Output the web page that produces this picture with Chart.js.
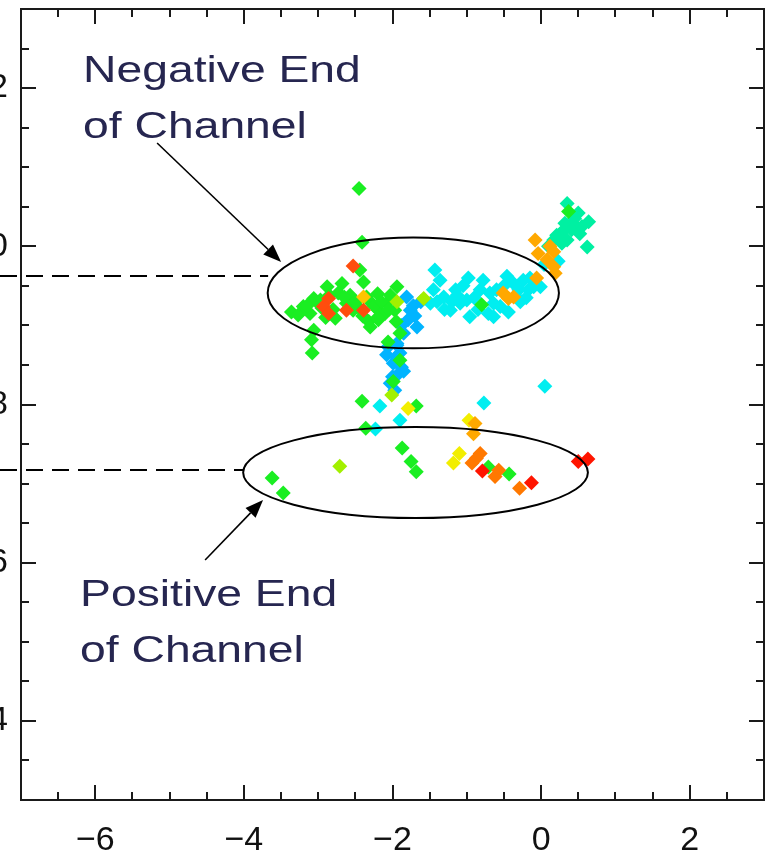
<!DOCTYPE html>
<html>
<head>
<meta charset="utf-8">
<script src="https://cdn.jsdelivr.net/npm/chart.js@4.4.1/dist/chart.umd.min.js"></script>
<style>
  html, body { margin: 0; padding: 0; background: #fff; }
  #wrap { width: 775px; height: 857px; position: relative; }
</style>
</head>
<body>
<div id="wrap"><canvas id="myChart"></canvas></div>
<script>
// axis ticks
const xTicks = [-6, -4, -2, 0, 2];
const yTicks = [4, 6, 8, 10, 12];

// points, one list per marker colour
const greenPts = [
  [-2.45, 10.73], [-2.41, 10.05], [-2.44, 9.70], [-2.39, 9.55], [-2.68, 9.53], [-2.88, 9.49],
  [-2.73, 9.41], [-2.57, 9.38], [-3.06, 9.34], [-3.20, 9.24], [-3.36, 9.17], [-3.27, 9.13],
  [-3.11, 9.15], [-2.77, 9.09], [-2.53, 9.19], [-2.30, 9.30], [-2.19, 9.19], [-2.32, 9.05],
  [-2.19, 9.07], [-2.10, 9.15], [-1.94, 9.49], [-1.97, 9.19], [-2.08, 9.28], [-2.30, 8.98],
  [-3.06, 8.94], [-3.09, 8.82], [-2.06, 8.79], [-1.90, 8.90], [-3.08, 8.65], [-1.90, 8.56],
  [-1.99, 8.29], [-2.41, 8.04], [-1.68, 7.98], [-2.36, 7.70], [-1.87, 7.45], [-1.75, 7.28],
  [-1.68, 7.15], [-3.47, 6.88], [-3.62, 7.07], [0.37, 10.44], [-0.80, 9.26], [-0.43, 7.12],
  [-0.71, 7.21], [-2.97, 9.32], [-2.95, 9.22], [-2.62, 9.28], [-2.45, 9.22], [-2.85, 9.38],
  [-2.20, 9.40], [-2.03, 9.38], [-3.00, 9.28], [-2.80, 9.20], [-2.65, 9.36], [-2.50, 9.30],
  [-2.35, 9.36], [-2.25, 9.25], [-2.15, 9.30], [-2.05, 9.20], [-2.40, 9.12], [-3.15, 9.25],
  [-2.90, 9.10], [-2.20, 9.10], [-1.95, 9.05]
];
const redOrangePts = [
  [-2.53, 9.75], [-2.86, 9.34], [-2.93, 9.24], [-2.86, 9.15], [-2.62, 9.19], [-2.39, 9.19]
];
const goldPts = [[-2.39, 9.36]];
const limePts = [[-1.94, 9.30], [-1.58, 9.34], [-2.01, 8.12], [-2.71, 7.22]];
const bluePts = [
  [-1.81, 9.36], [-1.76, 9.19], [-1.79, 9.07], [-1.67, 8.98], [-1.85, 8.90], [-1.94, 8.77],
  [-2.08, 8.63], [-1.99, 8.52], [-1.92, 8.39], [-1.85, 8.42], [-1.90, 8.65], [-2.03, 8.27],
  [-1.97, 8.18], [-2.06, 8.73], [-1.94, 8.75], [-1.62, 9.30], [-1.70, 9.12], [-1.72, 9.25],
  [-1.88, 9.00], [-1.95, 8.60], [-1.88, 8.47], [-2.00, 8.35]
];
const cyanPts = [
  [-1.43, 9.70], [-1.36, 9.57], [-1.45, 9.45], [-1.31, 9.36], [-1.49, 9.28], [-1.13, 9.38],
  [-0.98, 9.60], [-1.09, 9.28], [-0.96, 9.11], [-1.00, 9.32], [-0.64, 9.28], [-0.64, 9.11],
  [-0.46, 9.62], [-0.37, 9.53], [-0.24, 9.57], [-0.33, 9.36], [-0.17, 9.45], [-0.10, 9.49],
  [-0.69, 9.41], [-1.22, 9.19], [-0.82, 9.45], [-0.01, 9.49], [-0.55, 9.24], [-0.44, 9.17],
  [-0.28, 9.30], [-0.78, 9.57], [-0.71, 9.15], [0.23, 9.81], [-0.77, 8.02], [0.05, 8.23],
  [-2.17, 7.98], [-1.90, 7.80], [-2.23, 7.69], [0.04, 9.77], [-1.40, 9.30], [-1.20, 9.30],
  [-1.15, 9.45], [-0.90, 9.35], [-0.85, 9.20], [-0.60, 9.45], [-0.50, 9.50], [-0.30, 9.45],
  [-0.20, 9.35], [-0.15, 9.60], [-1.05, 9.50], [-1.30, 9.20]
];
const orangePts = [
  [-0.51, 9.41], [-0.37, 9.36], [-0.06, 9.60], [-0.08, 10.08], [-0.04, 9.91], [0.17, 9.93],
  [0.08, 9.83], [0.17, 9.74], [0.19, 9.66], [-0.44, 9.34], [0.12, 10.00], [-0.89, 7.76],
  [-0.91, 7.63]
];
const darkOrangePts = [
  [-0.87, 7.32], [-0.82, 7.38], [-0.93, 7.26], [-0.57, 7.17], [-0.62, 7.09], [-0.29, 6.94]
];
const yellowPts = [[-1.79, 7.95], [-0.97, 7.80], [-1.10, 7.38], [-1.18, 7.26]];
const redPts = [[-0.79, 7.16], [-0.13, 7.01], [0.50, 7.28], [0.63, 7.31]];
const tealPts = [
  [0.35, 10.54], [0.43, 10.29], [0.26, 10.16], [0.17, 10.08], [0.35, 10.08], [0.50, 10.42],
  [0.64, 10.31], [0.32, 10.29], [0.41, 10.21], [0.52, 10.16], [0.62, 9.99], [0.21, 10.14],
  [0.28, 10.04], [0.45, 10.35], [0.55, 10.25], [0.30, 10.20], [0.10, 10.00]
];

// overlay notes, in data units
const ellipses = [
  { x: -1.72, y: 9.41, rx: 1.96, ry: 0.70 },
  { x: -1.69, y: 7.14, rx: 2.32, ry: 0.575 }
];
const dashes = [
  { y: 9.625, xEnd: -3.674 },
  { y: 7.172, xEnd: -4.011 }
];
const arrows = [
  { from: [-5.168, 11.306], to: [-3.499, 9.802] },
  { from: [-4.522, 6.034], to: [-3.742, 6.793] }
];
const notes = [
  { x: -6.164, y: 12.077, text: 'Negative End' },
  { x: -6.164, y: 11.369, text: 'of Channel' },
  { x: -6.205, y: 5.453, text: 'Positive End' },
  { x: -6.205, y: 4.745, text: 'of Channel' }
];

const toXY = arr => arr.map(p => ({ x: p[0], y: p[1] }));
const series = (pts, color) => ({
  data: toXY(pts),
  backgroundColor: color,
  borderWidth: 0,
  pointStyle: 'rectRot',
  pointRadius: 7.5,
  pointHoverRadius: 7.5
});

const minus = v => String(v).replace('-', '\u2212');

const frame = {
  id: 'frame',
  afterDraw(chart) {
    const { ctx, chartArea: a, scales: { x, y } } = chart;
    ctx.save();
    ctx.strokeStyle = '#1a1a1a';
    ctx.lineWidth = 2;
    ctx.strokeRect(a.left, a.top, a.right - a.left, a.bottom - a.top);
    const seg = (x1, y1, x2, y2) => { ctx.beginPath(); ctx.moveTo(x1, y1); ctx.lineTo(x2, y2); ctx.stroke(); };
    for (let v = x.min; v <= x.max + 1e-9; v += 0.5) {
      const px = Math.round(x.getPixelForValue(v));
      const len = xTicks.includes(v) ? 15 : 8;
      seg(px, a.bottom, px, a.bottom - len);
      seg(px, a.top, px, a.top + len);
    }
    for (let v = y.min; v <= y.max + 1e-9; v += 0.5) {
      const py = Math.round(y.getPixelForValue(v));
      const len = yTicks.includes(v) ? 15 : 8;
      seg(a.left, py, a.left + len, py);
      seg(a.right, py, a.right - len, py);
    }

    // ellipses
    ctx.lineWidth = 2;
    ctx.strokeStyle = '#000';
    ellipses.forEach(e => {
      const cx = x.getPixelForValue(e.x), cy = y.getPixelForValue(e.y);
      const rx = x.getPixelForValue(e.x + e.rx) - cx;
      const ry = cy - y.getPixelForValue(e.y + e.ry);
      ctx.beginPath();
      ctx.ellipse(cx, cy, rx, ry, 0, 0, Math.PI * 2);
      ctx.stroke();
    });

    // dashed levels
    ctx.setLineDash([17, 9]);
    dashes.forEach(d => {
      const py = Math.round(y.getPixelForValue(d.y));
      seg(0, py, x.getPixelForValue(d.xEnd), py);
    });
    ctx.setLineDash([]);

    // arrows
    ctx.fillStyle = '#000';
    ctx.lineWidth = 1.6;
    arrows.forEach(ar => {
      const x1 = x.getPixelForValue(ar.from[0]), y1 = y.getPixelForValue(ar.from[1]);
      const x2 = x.getPixelForValue(ar.to[0]), y2 = y.getPixelForValue(ar.to[1]);
      const ang = Math.atan2(y2 - y1, x2 - x1);
      const hl = 18, hw = 7;
      const bx = x2 - hl * Math.cos(ang), by = y2 - hl * Math.sin(ang);
      seg(x1, y1, bx, by);
      ctx.beginPath();
      ctx.moveTo(x2, y2);
      ctx.lineTo(bx + hw * Math.sin(ang), by - hw * Math.cos(ang));
      ctx.lineTo(bx - hw * Math.sin(ang), by + hw * Math.cos(ang));
      ctx.closePath();
      ctx.fill();
    });

    // notes
    ctx.fillStyle = '#262650';
    ctx.font = '37px "Liberation Sans", Arial, sans-serif';
    ctx.textBaseline = 'alphabetic';
    ctx.textAlign = 'left';
    notes.forEach(n => {
      ctx.save();
      ctx.translate(x.getPixelForValue(n.x), y.getPixelForValue(n.y));
      ctx.scale(1.25, 1);
      ctx.fillText(n.text, 0, 0);
      ctx.restore();
    });
    ctx.restore();
  }
};

const tickFont = { size: 34, family: '"Liberation Sans", Arial, sans-serif' };

// first dataset ends up on top
const myChart = new Chart(document.getElementById('myChart'), {
  type: 'scatter',
  data: {
    datasets: [
      series(redOrangePts, '#ff4d0d'),
      series(redPts, '#ff1500'),
      series(darkOrangePts, '#ff7800'),
      series(orangePts, '#ffa800'),
      series(goldPts, '#ffc400'),
      series(yellowPts, '#f2ee00'),
      series(limePts, '#a2f000'),
      series(greenPts, '#1aee22'),
      series(bluePts, '#00b4ff'),
      series(cyanPts, '#00eef0'),
      series(tealPts, '#00f0a2')
    ]
  },
  options: {
    responsive: true,
    maintainAspectRatio: false,
    animation: false,
    events: [],
    layout: { padding: { top: 9, right: 11, left: 0, bottom: 0 } },
    plugins: { legend: { display: false }, tooltip: { enabled: false } },
    scales: {
      x: {
        type: 'linear', min: -7, max: 3,
        grid: { display: false, drawTicks: false },
        border: { display: false },
        afterBuildTicks: s => { s.ticks = xTicks.map(v => ({ value: v })); },
        afterFit: s => { s.height = 57; s.paddingLeft = 0; s.paddingRight = 0; },
        ticks: { padding: 20, font: tickFont, color: '#111', maxRotation: 0, autoSkip: false, callback: minus }
      },
      y: {
        type: 'linear', min: 3, max: 13,
        grid: { display: false, drawTicks: false },
        border: { display: false },
        afterBuildTicks: s => { s.ticks = yTicks.map(v => ({ value: v })); },
        afterFit: s => { s.width = 21; s.paddingTop = 0; s.paddingBottom = 0; },
        ticks: { padding: 13, font: tickFont, color: '#111', autoSkip: false, callback: minus }
      }
    }
  },
  plugins: [frame]
});
</script>
</body>
</html>
